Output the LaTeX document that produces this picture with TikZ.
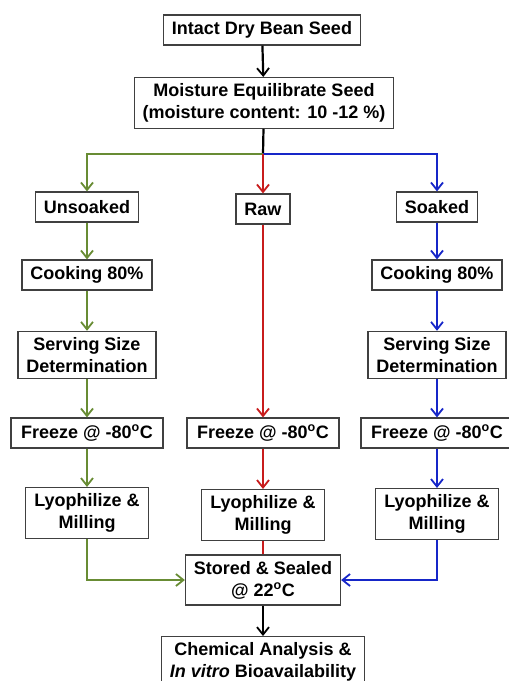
\documentclass[tikz,border=0pt]{standalone}
\usepackage{fontspec}
\setmainfont{Liberation Sans}
\usetikzlibrary{arrows.meta}
\definecolor{unsoakgreen}{RGB}{104,140,52}
\definecolor{rawred}{RGB}{200,28,28}
\definecolor{soakblue}{RGB}{22,38,200}
\begin{document}
\begin{tikzpicture}[x=1pt,y=-1pt,
        box/.style={draw=black!75,line width=1.2pt,fill=white,align=center,
            inner xsep=8.5pt,inner ysep=6pt,minimum height=30pt,
            font=\bfseries\fontsize{18}{22}\selectfont},
        freezebox/.style={box,minimum width=152pt},
        link/.style={line width=2.2pt},
        >={Straight Barb[length=7.5pt,width=12pt,line width=1.8pt]}]
\useasboundingbox (0,0) rectangle (509,681);

\node[box] (seed) at (262,30) {Intact Dry Bean Seed};
\node[box] (equil) at (264,103) {Moisture Equilibrate Seed\\(moisture content: 10 -12 \%)};
\coordinate (split) at (263,154);

\node[box] (unsoaked) at (87,207) {Unsoaked};
\node[box] (raw) at (263,209) {Raw};
\node[box] (soaked) at (437,207) {Soaked};

\node[box] (cookU) at (87,275) {Cooking 80\%};
\node[box] (cookS) at (437,275) {Cooking 80\%};
\node[box] (servU) at (87,355) {Serving Size\\Determination};
\node[box] (servS) at (437,355) {Serving Size\\Determination};

\node[freezebox] (freezeU) at (87,433) {Freeze @ -80\textsuperscript{o}C};
\node[freezebox] (freezeR) at (263,433) {Freeze @ -80\textsuperscript{o}C};
\node[freezebox] (freezeS) at (437,433) {Freeze @ -80\textsuperscript{o}C};

\node[box] (lyoU) at (87,513) {Lyophilize \&\\Milling};
\node[box] (lyoR) at (263,515) {Lyophilize \&\\Milling};
\node[box] (lyoS) at (437,514) {Lyophilize \&\\Milling};

\node[box] (stored) at (263,580) {Stored \& Sealed\\@ 22\textsuperscript{o}C};
\node[box] (chem) at (263,662) {Chemical Analysis \&\\\textit{In vitro} Bioavailability};

% trunk
\draw[link,->] (seed) -- (equil);
\draw[link] (equil) -- (split);
\draw[link,->] (stored) -- (chem);

% unsoaked branch
\draw[link,unsoakgreen,->] (split) -| (unsoaked);
\draw[link,unsoakgreen,->] (unsoaked) -- (cookU);
\draw[link,unsoakgreen,->] (cookU) -- (servU);
\draw[link,unsoakgreen,->] (servU) -- (freezeU);
\draw[link,unsoakgreen,->] (freezeU) -- (lyoU);
\draw[link,unsoakgreen,->] (lyoU) |- (stored);

% soaked branch
\draw[link,soakblue,->] (split) -| (soaked);
\draw[link,soakblue,->] (soaked) -- (cookS);
\draw[link,soakblue,->] (cookS) -- (servS);
\draw[link,soakblue,->] (servS) -- (freezeS);
\draw[link,soakblue,->] (freezeS) -- (lyoS);
\draw[link,soakblue,->] (lyoS) |- (stored);

% raw branch
\draw[link,rawred,->] (split) -- (raw);
\draw[link,rawred,->] (raw) -- (freezeR);
\draw[link,rawred,->] (freezeR) -- (lyoR);
\draw[link,rawred] (lyoR) -- (stored);

\end{tikzpicture}
\end{document}
